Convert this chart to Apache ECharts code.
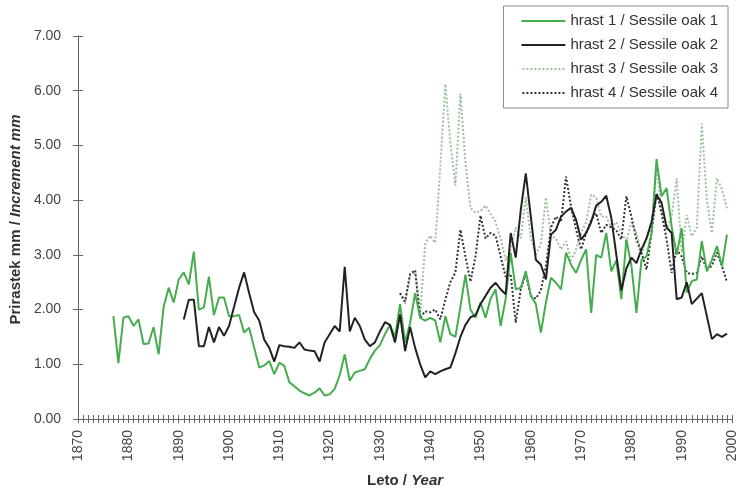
<!DOCTYPE html>
<html>
<head>
<meta charset="utf-8">
<script src="https://cdn.jsdelivr.net/npm/echarts@6/dist/echarts.min.js"></script>
<style>
html,body{margin:0;padding:0;background:#fff;}
#c{width:739px;height:493px;}
</style>
</head>
<body>
<div id="c"></div>
<script>
// ---- data ----
const seriesNames = ['hrast 1 / Sessile oak 1','hrast 2 / Sessile oak 2','hrast 3 / Sessile oak 3','hrast 4 / Sessile oak 4'];
const yTicks = [0,1,2,3,4,5,6,7];
const xTicks = [1870,1880,1890,1900,1910,1920,1930,1940,1950,1960,1970,1980,1990,2000];

const h1Start = 1877;
const h1 = [1.88,1.02,1.85,1.88,1.70,1.82,1.37,1.38,1.68,1.18,
            2.05,2.40,2.13,2.55,2.68,2.46,3.06,2.00,2.04,2.60,
            1.90,2.22,2.22,1.88,1.88,1.90,1.58,1.67,1.30,0.94,
            0.98,1.06,0.82,1.03,0.97,0.67,0.60,0.52,0.47,0.43,
            0.48,0.56,0.43,0.45,0.55,0.80,1.18,0.70,0.85,0.88,
            0.91,1.10,1.25,1.35,1.55,1.72,1.50,2.10,1.40,1.75,
            2.30,1.85,1.80,1.85,1.80,1.40,1.88,1.55,1.50,2.05,
            2.64,2.00,1.85,2.13,1.85,2.20,2.37,1.70,2.20,3.04,
            2.37,2.40,2.70,2.25,2.10,1.58,2.13,2.58,2.49,2.37,
            3.04,2.82,2.67,2.91,3.10,1.94,3.00,2.95,3.40,2.70,
            2.90,2.19,3.28,2.80,1.94,2.91,2.97,3.40,4.75,4.07,
            4.22,3.52,3.00,3.49,2.31,2.52,2.55,3.25,2.70,2.91,
            3.16,2.79,3.37];

const h2Start = 1891;
const h2 = [1.82,2.18,2.18,1.33,1.33,1.68,1.40,1.68,1.52,1.70,
            2.05,2.40,2.68,2.30,1.95,1.80,1.45,1.30,1.05,1.35,
            1.33,1.32,1.30,1.40,1.27,1.25,1.24,1.05,1.40,1.55,
            1.70,1.60,2.78,1.60,1.85,1.70,1.45,1.33,1.40,1.60,
            1.77,1.72,1.40,1.91,1.24,1.68,1.30,1.00,0.76,0.87,
            0.82,0.87,0.91,0.94,1.20,1.50,1.72,1.86,1.90,2.10,
            2.25,2.40,2.49,2.37,2.28,3.40,2.95,3.82,4.49,3.70,
            2.91,2.82,2.55,3.37,3.46,3.70,3.79,3.86,3.64,3.28,
            3.40,3.60,3.90,3.97,4.08,3.68,3.00,2.35,2.75,2.95,
            2.85,3.10,3.30,3.60,4.10,3.95,3.50,3.40,2.19,2.22,
            2.50,2.10,2.20,2.30,1.88,1.46,1.55,1.50,1.56];

const h3Start = 1934;
const h3 = [2.30,2.10,2.62,2.68,1.90,3.20,3.35,3.22,4.60,6.12,
            5.05,4.27,5.95,4.70,3.86,3.77,3.80,3.90,3.75,3.60,
            3.30,2.90,3.10,3.50,3.30,4.05,3.30,3.00,3.20,4.05,
            3.35,3.30,3.10,3.25,2.90,3.10,3.40,3.60,4.10,4.05,
            3.70,3.70,3.50,3.60,3.40,3.25,3.60,3.40,3.00,3.30,
            3.50,4.60,3.80,3.46,3.70,4.40,3.05,3.73,3.34,3.50,
            5.40,4.00,3.40,4.40,4.20,3.85];

const h4Start = 1934;
const h4 = [2.30,2.15,2.65,2.72,1.85,1.97,1.95,2.00,1.82,2.18,
            2.50,2.68,3.46,2.97,2.51,2.97,3.72,3.30,3.40,3.35,
            2.97,2.60,2.65,1.76,2.37,2.65,2.25,2.20,2.35,2.80,
            3.50,3.70,3.60,4.43,3.88,3.46,3.10,3.40,3.64,3.76,
            3.40,3.55,3.50,3.45,3.28,4.07,3.70,3.28,3.04,2.73,
            3.40,4.13,3.76,3.28,2.67,3.10,2.97,2.67,2.65,2.67,
            2.97,2.73,2.80,3.04,2.80,2.50];

// ---- chart ----
function toPairs(start, arr){ return arr.map((v,i)=>[start+i, v]); }

const font = '"Liberation Sans", Arial, sans-serif';
const axisCol = '#666';
const colors = ['#45ad4d','#222222','#9fc09c','#333333'];

// legend icons: solid bar and dotted bar (drawn as filled paths)
const solidIcon = 'path://M0,0H44V2H0Z';
let dots = '';
for (let x = 0; x < 44; x += 4) dots += 'M' + x + ',0h2v2h-2Z';
const dottedIcon = 'path://' + dots;

const chart = echarts.init(document.getElementById('c'), null, {renderer:'canvas'});

const xBase = {
  type:'value', min:xTicks[0], max:xTicks[xTicks.length-1], interval:10,
  gridIndex:0, position:'bottom'
};
const yBase = {
  type:'value', min:yTicks[0], max:yTicks[yTicks.length-1], interval:1,
  gridIndex:0, position:'left'
};

chart.setOption({
  animation:false,
  backgroundColor:'#fff',
  textStyle:{fontFamily:font},
  grid:{left:78, right:3, top:36, bottom:73, containLabel:false},
  legend:{
    orient:'vertical', right:11, top:6,
    backgroundColor:'#fff',
    borderColor:'#8a8a8a', borderWidth:1,
    padding:[7,10,7,18],
    itemGap:8, itemWidth:44, itemHeight:2,
    textStyle:{fontFamily:font, fontSize:15, color:'#333', lineHeight:16},
    data:[
      {name:seriesNames[0], icon:solidIcon, itemStyle:{color:colors[0]}},
      {name:seriesNames[1], icon:solidIcon, itemStyle:{color:colors[1]}},
      {name:seriesNames[2], icon:dottedIcon, itemStyle:{color:colors[2]}},
      {name:seriesNames[3], icon:dottedIcon, itemStyle:{color:colors[3]}}
    ]
  },
  xAxis:[
    Object.assign({}, xBase, {
      name:'{a|Leto / }{b|Year}', nameLocation:'middle', nameGap:54,
      nameTextStyle:{rich:{
        a:{fontFamily:font, fontSize:15, fontWeight:'bold', color:'#333'},
        b:{fontFamily:font, fontSize:15, fontWeight:'bold', fontStyle:'italic', color:'#333'}}},
      axisLine:{show:true, lineStyle:{color:axisCol, width:1}},
      axisTick:{show:true, length:4, lineStyle:{color:axisCol}},
      minorTick:{show:true, splitNumber:10, length:4, lineStyle:{color:axisCol}},
      axisLabel:{rotate:90, margin:11, fontSize:14, color:'#444', fontFamily:font,
                 formatter:v=>String(v)},
      splitLine:{show:false}
    }),
    Object.assign({}, xBase, {
      axisLine:{show:false},
      axisTick:{show:true, inside:true, length:4, lineStyle:{color:axisCol}},
      minorTick:{show:true, splitNumber:10, length:4, lineStyle:{color:axisCol}},
      axisLabel:{show:false},
      splitLine:{show:false}
    })
  ],
  yAxis:[
    Object.assign({}, yBase, {
      name:'{a|Prirastek mm / }{b|Increment mm}', nameLocation:'middle', nameGap:53,
      nameTextStyle:{padding:[0,0,0,16], rich:{
        a:{fontFamily:font, fontSize:15, fontWeight:'bold', color:'#333'},
        b:{fontFamily:font, fontSize:15, fontWeight:'bold', fontStyle:'italic', color:'#333'}}},
      axisLine:{show:true, lineStyle:{color:axisCol, width:1}},
      axisTick:{show:true, length:5, lineStyle:{color:axisCol}},
      axisLabel:{margin:17, fontSize:14, color:'#444', fontFamily:font,
                 formatter:v=>v.toFixed(2)},
      splitLine:{show:false}
    }),
    Object.assign({}, yBase, {
      axisLine:{show:false},
      axisTick:{show:true, inside:true, length:5, lineStyle:{color:axisCol}},
      axisLabel:{show:false},
      splitLine:{show:false}
    })
  ],
  series:[
    {name:seriesNames[0], type:'line', xAxisIndex:0, yAxisIndex:0, showSymbol:false, symbol:'none',
     data:toPairs(h1Start,h1), color:colors[0], lineStyle:{color:colors[0], width:2}, z:3},
    {name:seriesNames[1], type:'line', xAxisIndex:0, yAxisIndex:0, showSymbol:false, symbol:'none',
     data:toPairs(h2Start,h2), color:colors[1], lineStyle:{color:colors[1], width:2}, z:4},
    {name:seriesNames[2], type:'line', xAxisIndex:0, yAxisIndex:0, showSymbol:false, symbol:'none',
     data:toPairs(h3Start,h3), color:colors[2], lineStyle:{color:colors[2], width:2, type:'dotted'}, z:2},
    {name:seriesNames[3], type:'line', xAxisIndex:0, yAxisIndex:0, showSymbol:false, symbol:'none',
     data:toPairs(h4Start,h4), color:colors[3], lineStyle:{color:colors[3], width:2, type:'dotted'}, z:2}
  ]
});
</script>
</body>
</html>
